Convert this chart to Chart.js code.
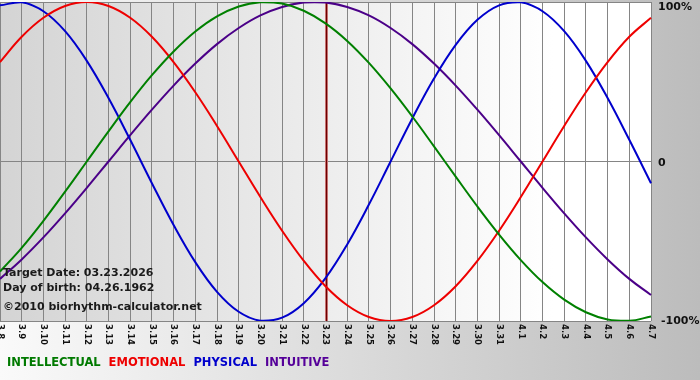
<!DOCTYPE html>
<html lang="en">
<head>
    <meta charset="UTF-8">
    <title>Biorhythm</title>
    <script src="https://cdn.jsdelivr.net/npm/chart.js"></script>
    <style>
        body {
            margin: 0;
            background: #ffffff;
        }
        #chart {
            display: block;
        }
    </style>
</head>
<body>
    <canvas id="chart" width="700" height="380"></canvas>

    <script>
        // days shown on the x axis
        const dateLabels = ["3.8", "3.9", "3.10", "3.11", "3.12", "3.13", "3.14", "3.15", "3.16", "3.17",
            "3.18", "3.19", "3.20", "3.21", "3.22", "3.23", "3.24", "3.25", "3.26", "3.27",
            "3.28", "3.29", "3.30", "3.31", "4.1", "4.2", "4.3", "4.4", "4.5", "4.6", "4.7"];

        const intellectual = [-0.690, -0.541, -0.372, -0.189, 0, 0.189, 0.372, 0.541, 0.690, 0.815,
            0.910, 0.972, 0.999, 0.990, 0.945, 0.866, 0.756, 0.618, 0.458, 0.282,
            0.095, -0.095, -0.282, -0.458, -0.618, -0.756, -0.866, -0.945, -0.990, -0.999, -0.972];

        const emotional = [0.623, 0.782, 0.901, 0.975, 1, 0.975, 0.901, 0.782, 0.623, 0.434,
            0.223, 0, -0.223, -0.434, -0.623, -0.782, -0.901, -0.975, -1, -0.975,
            -0.901, -0.782, -0.623, -0.434, -0.223, 0, 0.223, 0.434, 0.623, 0.782, 0.901];

        const physical = [0.979, 0.998, 0.942, 0.817, 0.631, 0.398, 0.136, -0.136, -0.398, -0.631,
            -0.817, -0.942, -0.998, -0.979, -0.888, -0.731, -0.520, -0.270, 0, 0.270,
            0.520, 0.731, 0.888, 0.979, 0.998, 0.942, 0.817, 0.631, 0.398, 0.136, -0.136];

        const intuitive = [-0.736, -0.614, -0.476, -0.325, -0.165, 0, 0.165, 0.325, 0.476, 0.614,
            0.736, 0.837, 0.916, 0.969, 0.997, 0.997, 0.969, 0.916, 0.837, 0.736,
            0.614, 0.476, 0.325, 0.165, 0, -0.165, -0.325, -0.476, -0.614, -0.736, -0.837];

        const yTicks = [1, 0, -1];
        const yTickLabels = ["100%", "0", "-100%"];
        const targetDay = "3.23";
        const infoLines = ["Target Date: 03.23.2026", "Day of birth: 04.26.1962", "\u00a92010 biorhythm-calculator.net"];

        const legendColors = ["#007a00", "#ee0000", "#0000cc", "#550099"];

        // backgrounds, target marker and all the texts
        const decorations = {
            id: 'decorations',
            beforeDraw(chart) {
                const ctx = chart.ctx;
                const area = chart.chartArea;
                ctx.save();
                let bg = ctx.createLinearGradient(0, 0, chart.width, 0);
                bg.addColorStop(0, '#fafafa');
                bg.addColorStop(1, '#bcbcbc');
                ctx.fillStyle = bg;
                ctx.fillRect(0, 0, chart.width, chart.height);

                let plotBg = ctx.createLinearGradient(area.left, 0, area.right, 0);
                plotBg.addColorStop(0, '#d4d4d4');
                plotBg.addColorStop(0.85, '#ffffff');
                plotBg.addColorStop(1, '#ffffff');
                ctx.fillStyle = plotBg;
                ctx.fillRect(area.left, area.top, area.right - area.left, area.bottom - area.top);
                ctx.restore();
            },
            beforeDatasetsDraw(chart) {
                const ctx = chart.ctx;
                const area = chart.chartArea;
                const x = Math.round(chart.scales.x.getPixelForValue(dateLabels.indexOf(targetDay)));
                ctx.save();
                ctx.fillStyle = '#c87070';
                ctx.fillRect(x - 1, area.top, 3, area.bottom - area.top);
                ctx.fillStyle = '#6a0000';
                ctx.fillRect(x, area.top, 1, area.bottom - area.top);
                ctx.restore();
            },
            afterDraw(chart) {
                const ctx = chart.ctx;
                const area = chart.chartArea;
                const xs = chart.scales.x;
                const ys = chart.scales.y;
                ctx.save();

                // x labels, rotated clockwise
                ctx.fillStyle = '#111';
                ctx.font = 'bold 8.5px "DejaVu Sans"';
                ctx.textAlign = 'left';
                ctx.textBaseline = 'middle';
                dateLabels.forEach((lab, i) => {
                    const x = xs.getPixelForTick(i);
                    ctx.save();
                    ctx.translate(x, area.bottom + 3);
                    ctx.rotate(Math.PI / 2);
                    ctx.fillText(lab, 0, 0);
                    ctx.restore();
                });

                // y labels on the right
                ctx.font = 'bold 11px "DejaVu Sans"';
                ctx.fillStyle = '#111';
                yTicks.forEach((v, i) => {
                    let y = ys.getPixelForValue(v);
                    if (i == 0) y += 5;
                    if (i == 1) y += 2;
                    ctx.fillText(yTickLabels[i], area.right + (i == 2 ? 10 : 7), y);
                });

                // info block
                ctx.textBaseline = 'alphabetic';
                ctx.fillStyle = '#1a1a1a';
                ctx.fillText(infoLines[0], 3, 276);
                ctx.fillText(infoLines[1], 3, 291);
                ctx.fillText(infoLines[2], 3, 310);

                // legend
                ctx.font = 'bold 11.5px "DejaVu Sans"';
                let lx = 7;
                chart.data.datasets.forEach((ds, i) => {
                    ctx.fillStyle = legendColors[i];
                    ctx.fillText(ds.label, lx, 366);
                    lx += ctx.measureText(ds.label).width + 8;
                });
                ctx.restore();
            }
        };

        new Chart(document.getElementById("chart"), {
            type: 'line',
            data: {
                labels: dateLabels,
                datasets: [
                    { label: 'INTELLECTUAL', data: intellectual, borderColor: '#008000' },
                    { label: 'EMOTIONAL', data: emotional, borderColor: '#ee0000' },
                    { label: 'PHYSICAL', data: physical, borderColor: '#0000cc' },
                    { label: 'INTUITIVE', data: intuitive, borderColor: '#4b0088' }
                ]
            },
            options: {
                responsive: false,
                animation: false,
                elements: {
                    point: { radius: 0 },
                    line: { borderWidth: 2, tension: 0.4, fill: false }
                },
                layout: {
                    padding: { left: 0, top: 2, right: 49, bottom: 59 }
                },
                plugins: {
                    legend: { display: false },
                    tooltip: { enabled: false }
                },
                scales: {
                    x: {
                        offset: false,
                        grid: { color: '#858585', lineWidth: 1, drawTicks: false },
                        border: { display: false },
                        ticks: { display: false }
                    },
                    y: {
                        position: 'right',
                        min: -1,
                        max: 1,
                        grid: { color: '#858585', lineWidth: 1, drawTicks: false },
                        border: { display: false },
                        ticks: { display: false, stepSize: 1 }
                    }
                }
            },
            plugins: [decorations]
        });
    </script>
</body>
</html>
